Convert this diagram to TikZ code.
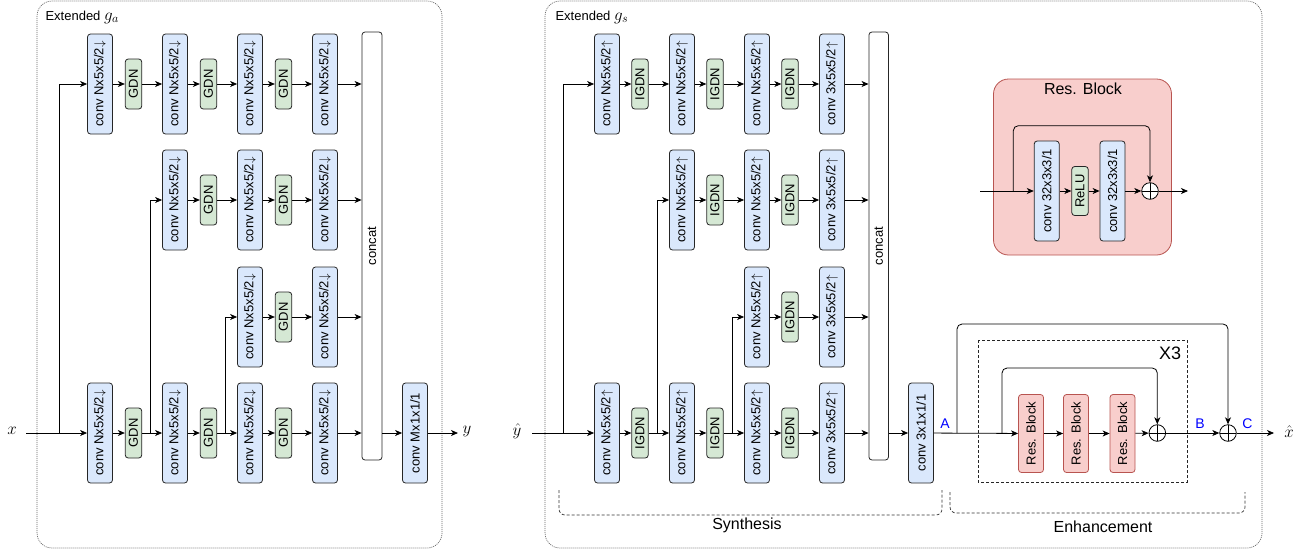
\RequirePackage{fix-cm}
\documentclass[tikz,border=0pt]{standalone}
\usepackage[no-math]{fontspec}
\setmainfont{Liberation Sans}
\usetikzlibrary{arrows.meta,calc}
\definecolor{convfill}{HTML}{DAE8FC}
\definecolor{gdnfill}{HTML}{D5E8D4}
\definecolor{resfill}{HTML}{F8CECC}
\definecolor{resdraw}{HTML}{B85450}
\definecolor{lblue}{HTML}{0000FF}
\newcommand\rottext[1]{\rotatebox{90}{#1}}
\newcommand\dn{$\downarrow$}
\newcommand\upa{$\uparrow$}
\begin{document}
\begin{tikzpicture}[x=1pt,y=-1pt,
  every node/.style={font=\fontsize{13}{15}\selectfont},
  convbox/.style={draw=black!85, fill=convfill, rounded corners=3pt, minimum width=25pt, minimum height=100pt, inner sep=0pt, line width=0.8pt},
  gdnbox/.style={draw=black!85, fill=gdnfill, rounded corners=3pt, minimum width=16.5pt, minimum height=50pt, inner sep=0pt, line width=0.8pt},
  catbox/.style={draw=black!85, fill=white, rounded corners=3pt, minimum width=20pt, minimum height=428pt, inner sep=0pt, line width=0.8pt},
  resbox/.style={draw=resdraw, fill=resfill, rounded corners=3pt, minimum width=25pt, minimum height=78pt, inner sep=0pt, line width=0.8pt},
  plusnode/.style={circle, draw=black, fill=white, minimum size=16.6pt, inner sep=0pt, line width=0.8pt,
    path picture={\draw[line width=0.8pt] (path picture bounding box.north) -- (path picture bounding box.south)
      (path picture bounding box.west) -- (path picture bounding box.east);}},
  arr/.style={-{Stealth[length=7pt,width=6pt,inset=2pt]}, line width=0.8pt},
  panel/.style={draw=black!60, dash pattern=on 1pt off 1pt, rounded corners=15pt, line width=0.7pt},
  brace/.style={draw=black!80, dash pattern=on 3pt off 2pt, rounded corners=6pt, line width=0.7pt},
  xbox/.style={draw=black!85, dash pattern=on 3pt off 2pt, line width=0.7pt},
  mathlbl/.style={font=\fontsize{17}{18}\selectfont},
  bluelbl/.style={text=lblue, font=\fontsize{14}{16}\selectfont},
  biglbl/.style={font=\fontsize{16}{18}\selectfont}
]
\useasboundingbox (0,0) rectangle (1301,552);

% ---------------- panels ----------------
\draw[panel] (37,1) rectangle (442,548);
\draw[panel] (545,1) rectangle (1262,548);
\node[anchor=west] (lta) at (42,17) {Extended \fontsize{17}{17}\selectfont$g_a$};
\node[anchor=west] (lts) at (552,17) {Extended \fontsize{17}{17}\selectfont$g_s$};

% ---------------- Extended g_a ----------------
\foreach \r/\yy/\s in {1/84/1, 2/200/2, 3/317/3, 4/433/1} {
  \foreach \c in {\s,...,4} {
    \node[convbox] (L\r c\c) at ({25+75*\c},\yy) {\rottext{conv Nx5x5/2\dn}};
  }
  \foreach \c in {\s,...,3} {
    \pgfmathtruncatemacro\n{\c+1}
    \node[gdnbox] (L\r g\c) at ({58.5+75*\c},\yy) {\rottext{GDN}};
    \draw[arr] (L\r c\c) -- (L\r g\c);
    \draw[arr] (L\r g\c) -- (L\r c\n);
  }
}
\node[catbox] (Lcat) at (372,246) {\rottext{concat}};
\node[convbox] (LM) at (415,433) {\rottext{conv Mx1x1/1}};
\foreach \r in {1,...,4} { \draw[arr] (L\r c4) -- (L\r c4 -| Lcat.west); }
\draw[arr] (L4c4 -| Lcat.east) -- (LM);
\coordinate (xin) at (26,433);
\node[mathlbl] (xl) at (12,431) {$x$};
\coordinate (Lb1) at (59,433);
\coordinate (Lb2) at (150,433);
\coordinate (Lb3) at (225,433);
\draw[arr] (xin) -- (L4c1);
\draw[arr] (Lb1) |- (L1c1);
\draw[arr] (Lb2) |- (L2c2);
\draw[arr] (Lb3) |- (L3c3);
\coordinate (yout) at (458,433);
\node[mathlbl] (yl) at (467,431) {$y$};
\draw[arr] (LM) -- (yout);

% ---------------- Extended g_s ----------------
\foreach \r/\yy/\s in {1/84/1, 2/200/2, 3/317/3, 4/433/1} {
  \foreach \c in {\s,...,3} {
    \node[convbox] (R\r c\c) at ({532+75*\c},\yy) {\rottext{conv Nx5x5/2\upa}};
  }
  \node[convbox] (R\r c4) at (832,\yy) {\rottext{conv 3x5x5/2\upa}};
  \foreach \c in {\s,...,3} {
    \pgfmathtruncatemacro\n{\c+1}
    \node[gdnbox] (R\r g\c) at ({565+75*\c},\yy) {\rottext{IGDN}};
    \draw[arr] (R\r c\c) -- (R\r g\c);
    \draw[arr] (R\r g\c) -- (R\r c\n);
  }
}
\node[catbox, minimum width=19.5pt] (Rcat) at (878.7,246) {\rottext{concat}};
\node[convbox] (RF) at (921,433) {\rottext{conv 3x1x1/1}};
\foreach \r in {1,...,4} { \draw[arr] (R\r c4) -- (R\r c4 -| Rcat.west); }
\draw[arr] (R4c4 -| Rcat.east) -- (RF);
\coordinate (yin) at (532,433);
\node[mathlbl] (yhl) at (517,431) {$\hat{y}$};
\coordinate (Rb1) at (563,433);
\coordinate (Rb2) at (657.5,433);
\coordinate (Rb3) at (732.5,433);
\draw[arr] (yin) -- (R4c1);
\draw[arr] (Rb1) |- (R1c1);
\draw[arr] (Rb2) |- (R2c2);
\draw[arr] (Rb3) |- (R3c3);

% ---------------- Enhancement ----------------
\draw[xbox] (978,340) rectangle (1187,482);
\node[font=\fontsize{18}{20}\selectfont] (x3) at (1170,353) {X3};
\node[resbox] (RB1) at (1031,433.5) {\rottext{Res. Block}};
\node[resbox] (RB2) at (1076,433.5) {\rottext{Res. Block}};
\node[resbox] (RB3) at (1122.5,433.5) {\rottext{Res. Block}};
\node[plusnode] (P1) at (1157.3,433) {};
\node[plusnode] (P2) at (1228,433) {};
\coordinate (Ee1) at (957,433);
\coordinate (Ee1t) at (957,324);
\coordinate (Ee2) at (1002,433);
\coordinate (Ee2t) at (1002,368);
\coordinate (xout) at (1274,433);
\draw[arr] (RF) -- (RB1);
\draw[arr, rounded corners=5pt] (Ee1) -- (Ee1t) -| (P2);
\draw[arr, rounded corners=5pt] (Ee2) -- (Ee2t) -| (P1);
\draw[arr] (RB1) -- (RB2);
\draw[arr] (RB2) -- (RB3);
\draw[arr] (RB3) -- (P1);
\draw[arr] (P1) -- (P2);
\draw[arr] (P2) -- (xout);
\node[mathlbl] (xhl) at (1289,432) {$\hat{x}$};
\node[bluelbl] (la) at (945,424) {A};
\node[bluelbl] (lb) at (1200,424) {B};
\node[bluelbl] (lc) at (1247.5,424) {C};

% brackets
\draw[brace] (559,490) -- (559,515) -- (942,515) -- (942,490);
\node[biglbl] (syn) at (747,525) {Synthesis};
\draw[brace] (950,492) -- (950,513) -- (1245,513) -- (1245,492);
\node[biglbl] (enh) at (1103,527) {Enhancement};

% ---------------- Res. Block detail ----------------
\node[draw=resdraw, fill=resfill, rounded corners=15pt, minimum width=178pt, minimum height=176pt, line width=0.8pt] (RBD) at (1082.5,167) {};
\node[font=\fontsize{16}{18}\selectfont] (RBt) at (1083,89) {Res. Block};
\node[convbox] (DC1) at (1046.7,191) {\rottext{conv 32x3x3/1}};
\node[gdnbox, minimum height=49pt] (DR) at (1080,191) {\rottext{ReLU}};
\node[convbox] (DC2) at (1112.5,191) {\rottext{conv 32x3x3/1}};
\node[plusnode] (DP) at (1150,191) {};
\coordinate (Din) at (980,191);
\coordinate (Db) at (1013.3,191);
\coordinate (Dbt) at (1013.3,125.7);
\coordinate (Dout) at (1188,191);
\draw[arr] (Din) -- (DC1);
\draw[arr, rounded corners=5pt] (Db) -- (Dbt) -| (DP);
\draw[arr] (DC1) -- (DR);
\draw[arr] (DR) -- (DC2);
\draw[arr] (DC2) -- (DP);
\draw[arr] (DP) -- (Dout);
\end{tikzpicture}
\end{document}
